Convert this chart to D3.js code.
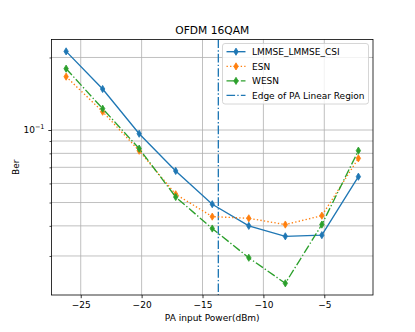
<!DOCTYPE html>
<html><head><meta charset="utf-8">
<script src="https://cdn.jsdelivr.net/npm/d3@7"></script>
<style>body{margin:0;background:#fff}svg{display:block}text{font-family:"DejaVu Sans",sans-serif}</style>
</head><body><svg id="c" width="415" height="332"></svg>
<script>
const xPower = [-26.2, -23.2, -20.2, -17.2, -14.2, -11.2, -8.2, -5.2, -2.2];
const berLMMSE = [0.212, 0.148, 0.0965, 0.0676, 0.0492, 0.0400, 0.0362, 0.0366, 0.0640];
const berESN   = [0.1665, 0.1191, 0.0820, 0.0541, 0.0437, 0.0430, 0.0405, 0.0441, 0.0763];
const berWESN  = [0.1797, 0.1226, 0.0837, 0.0527, 0.0390, 0.0295, 0.0231, 0.0405, 0.0821];
const edgeX = -13.7;
const xTicks = [-25, -20, -15, -10, -5];
const yMinorTicks = [0.03, 0.04, 0.05, 0.06, 0.07, 0.08, 0.09, 0.2];
const yMajorTicks = [0.1];
const seriesNames = ["LMMSE_LMMSE_CSI", "ESN", "WESN", "Edge of PA Linear Region"];
const title = "OFDM 16QAM", xLabel = "PA input Power(dBm)", yLabel = "Ber";

const L = 51.5, R = 373, T = 39.5, B = 295;
const svg = d3.select("#c");
const x = d3.scaleLinear().domain([-27.4, -1.0]).range([L, R]);
const y = d3.scaleLog().domain([0.02066, 0.2375]).range([B, T]);

// grid
const g = svg.append("g");
g.selectAll(".vg").data(xTicks).enter().append("line")
  .attr("x1", d => x(d)).attr("x2", d => x(d)).attr("y1", T).attr("y2", B)
  .attr("stroke", "#b0b0b0").attr("stroke-width", 0.8);
g.selectAll(".hg").data(yMajorTicks.concat(yMinorTicks)).enter().append("line")
  .attr("x1", L).attr("x2", R).attr("y1", d => y(d)).attr("y2", d => y(d))
  .attr("stroke", "#b0b0b0").attr("stroke-width", 0.8);

// axes
const xAxis = d3.axisBottom(x).tickValues(xTicks).tickSize(3.2).tickPadding(3)
  .tickFormat(d => d < 0 ? "\u2212" + Math.abs(d) : d);
const gx = svg.append("g").attr("transform", `translate(0,${B})`).call(xAxis);
gx.select(".domain").remove();
gx.selectAll("text").attr("font-size", 9).attr("fill", "#000").attr("font-family", "DejaVu Sans");
gx.selectAll("line").attr("stroke", "#000").attr("stroke-width", 0.8);

const yAxisMinor = d3.axisLeft(y).tickValues(yMinorTicks).tickSize(2).tickFormat("");
const gym = svg.append("g").attr("transform", `translate(${L},0)`).call(yAxisMinor);
gym.select(".domain").remove();
gym.selectAll("line").attr("stroke", "#000").attr("stroke-width", 0.7);
const yAxisMajor = d3.axisLeft(y).tickValues(yMajorTicks).tickSize(3.2).tickFormat("");
const gyM = svg.append("g").attr("transform", `translate(${L},0)`).call(yAxisMajor);
gyM.select(".domain").remove();
gyM.selectAll("line").attr("stroke", "#000").attr("stroke-width", 0.8);
const yl = svg.append("text").attr("x", L - 7).attr("y", y(0.1) + 3.3)
  .attr("text-anchor", "end").attr("font-size", 9).attr("fill", "#000");
yl.append("tspan").text("10");
yl.append("tspan").attr("dy", -4).attr("font-size", 6.5).text("\u22121");

// clip
svg.append("clipPath").attr("id", "clip").append("rect")
  .attr("x", L).attr("y", T).attr("width", R - L).attr("height", B - T);
const plot = svg.append("g").attr("clip-path", "url(#clip)");

const colors = ["#1f77b4", "#ff7f0e", "#2ca02c"];
const dashes = [null, "1.35,2.2", "8.6,2.2,1.35,2.2"];
const datas = [berLMMSE, berESN, berWESN];
const line = d3.line().x(d => x(d[0])).y(d => y(d[1]));
const diamond = (cx, cy) => `M${cx},${cy-3.6}L${cx+2.2},${cy}L${cx},${cy+3.6}L${cx-2.2},${cy}Z`;

// vertical edge line
plot.append("line").attr("x1", x(edgeX)).attr("x2", x(edgeX)).attr("y1", T).attr("y2", B)
  .attr("stroke", colors[0]).attr("stroke-width", 1.35).attr("stroke-dasharray", dashes[2]);

datas.forEach((ds, i) => {
  const pts = xPower.map((v, j) => [v, ds[j]]);
  plot.append("path").attr("d", line(pts)).attr("fill", "none")
    .attr("stroke", colors[i]).attr("stroke-width", 1.35)
    .attr("stroke-dasharray", dashes[i]);
  plot.selectAll(null).data(pts).enter().append("path")
    .attr("d", d => diamond(x(d[0]), y(d[1]))).attr("fill", colors[i]).attr("stroke", colors[i]).attr("stroke-width", 0.8);
});

// spines
svg.append("rect").attr("x", L).attr("y", T).attr("width", R - L).attr("height", B - T)
  .attr("fill", "none").attr("stroke", "#000").attr("stroke-width", 0.8);

// legend
const lg = svg.append("g");
lg.append("rect").attr("x", 222.5).attr("y", 43.5).attr("width", 146).attr("height", 60.5)
  .attr("rx", 2.5).attr("fill", "#fff").attr("fill-opacity", 0.8).attr("stroke", "#cccccc").attr("stroke-width", 0.8);
const rowsY = [51.7, 66.4, 80.9, 95.3];
seriesNames.forEach((nm, i) => {
  const cy = rowsY[i];
  const col = i < 3 ? colors[i] : colors[0];
  const da = i < 3 ? dashes[i] : dashes[2];
  lg.append("line").attr("x1", 226.5).attr("x2", 245.5).attr("y1", cy).attr("y2", cy)
    .attr("stroke", col).attr("stroke-width", 1.35).attr("stroke-dasharray", da);
  if (i < 3) lg.append("path").attr("d", diamond(236, cy)).attr("fill", col).attr("stroke", col).attr("stroke-width", 0.8);
  lg.append("text").attr("x", 252).attr("y", cy + 3.3).attr("font-size", 9).attr("fill", "#000").text(nm);
});

// title and labels
svg.append("text").attr("x", (L + R) / 2).attr("y", 33.5).attr("text-anchor", "middle")
  .attr("font-size", 10.7).attr("fill", "#000").text(title);
svg.append("text").attr("x", (L + R) / 2).attr("y", 321).attr("text-anchor", "middle")
  .attr("font-size", 9).attr("fill", "#000").text(xLabel);
svg.append("text").attr("transform", `translate(19,${(T + B) / 2}) rotate(-90)`).attr("text-anchor", "middle")
  .attr("font-size", 9).attr("fill", "#000").text(yLabel);
</script></body></html>
